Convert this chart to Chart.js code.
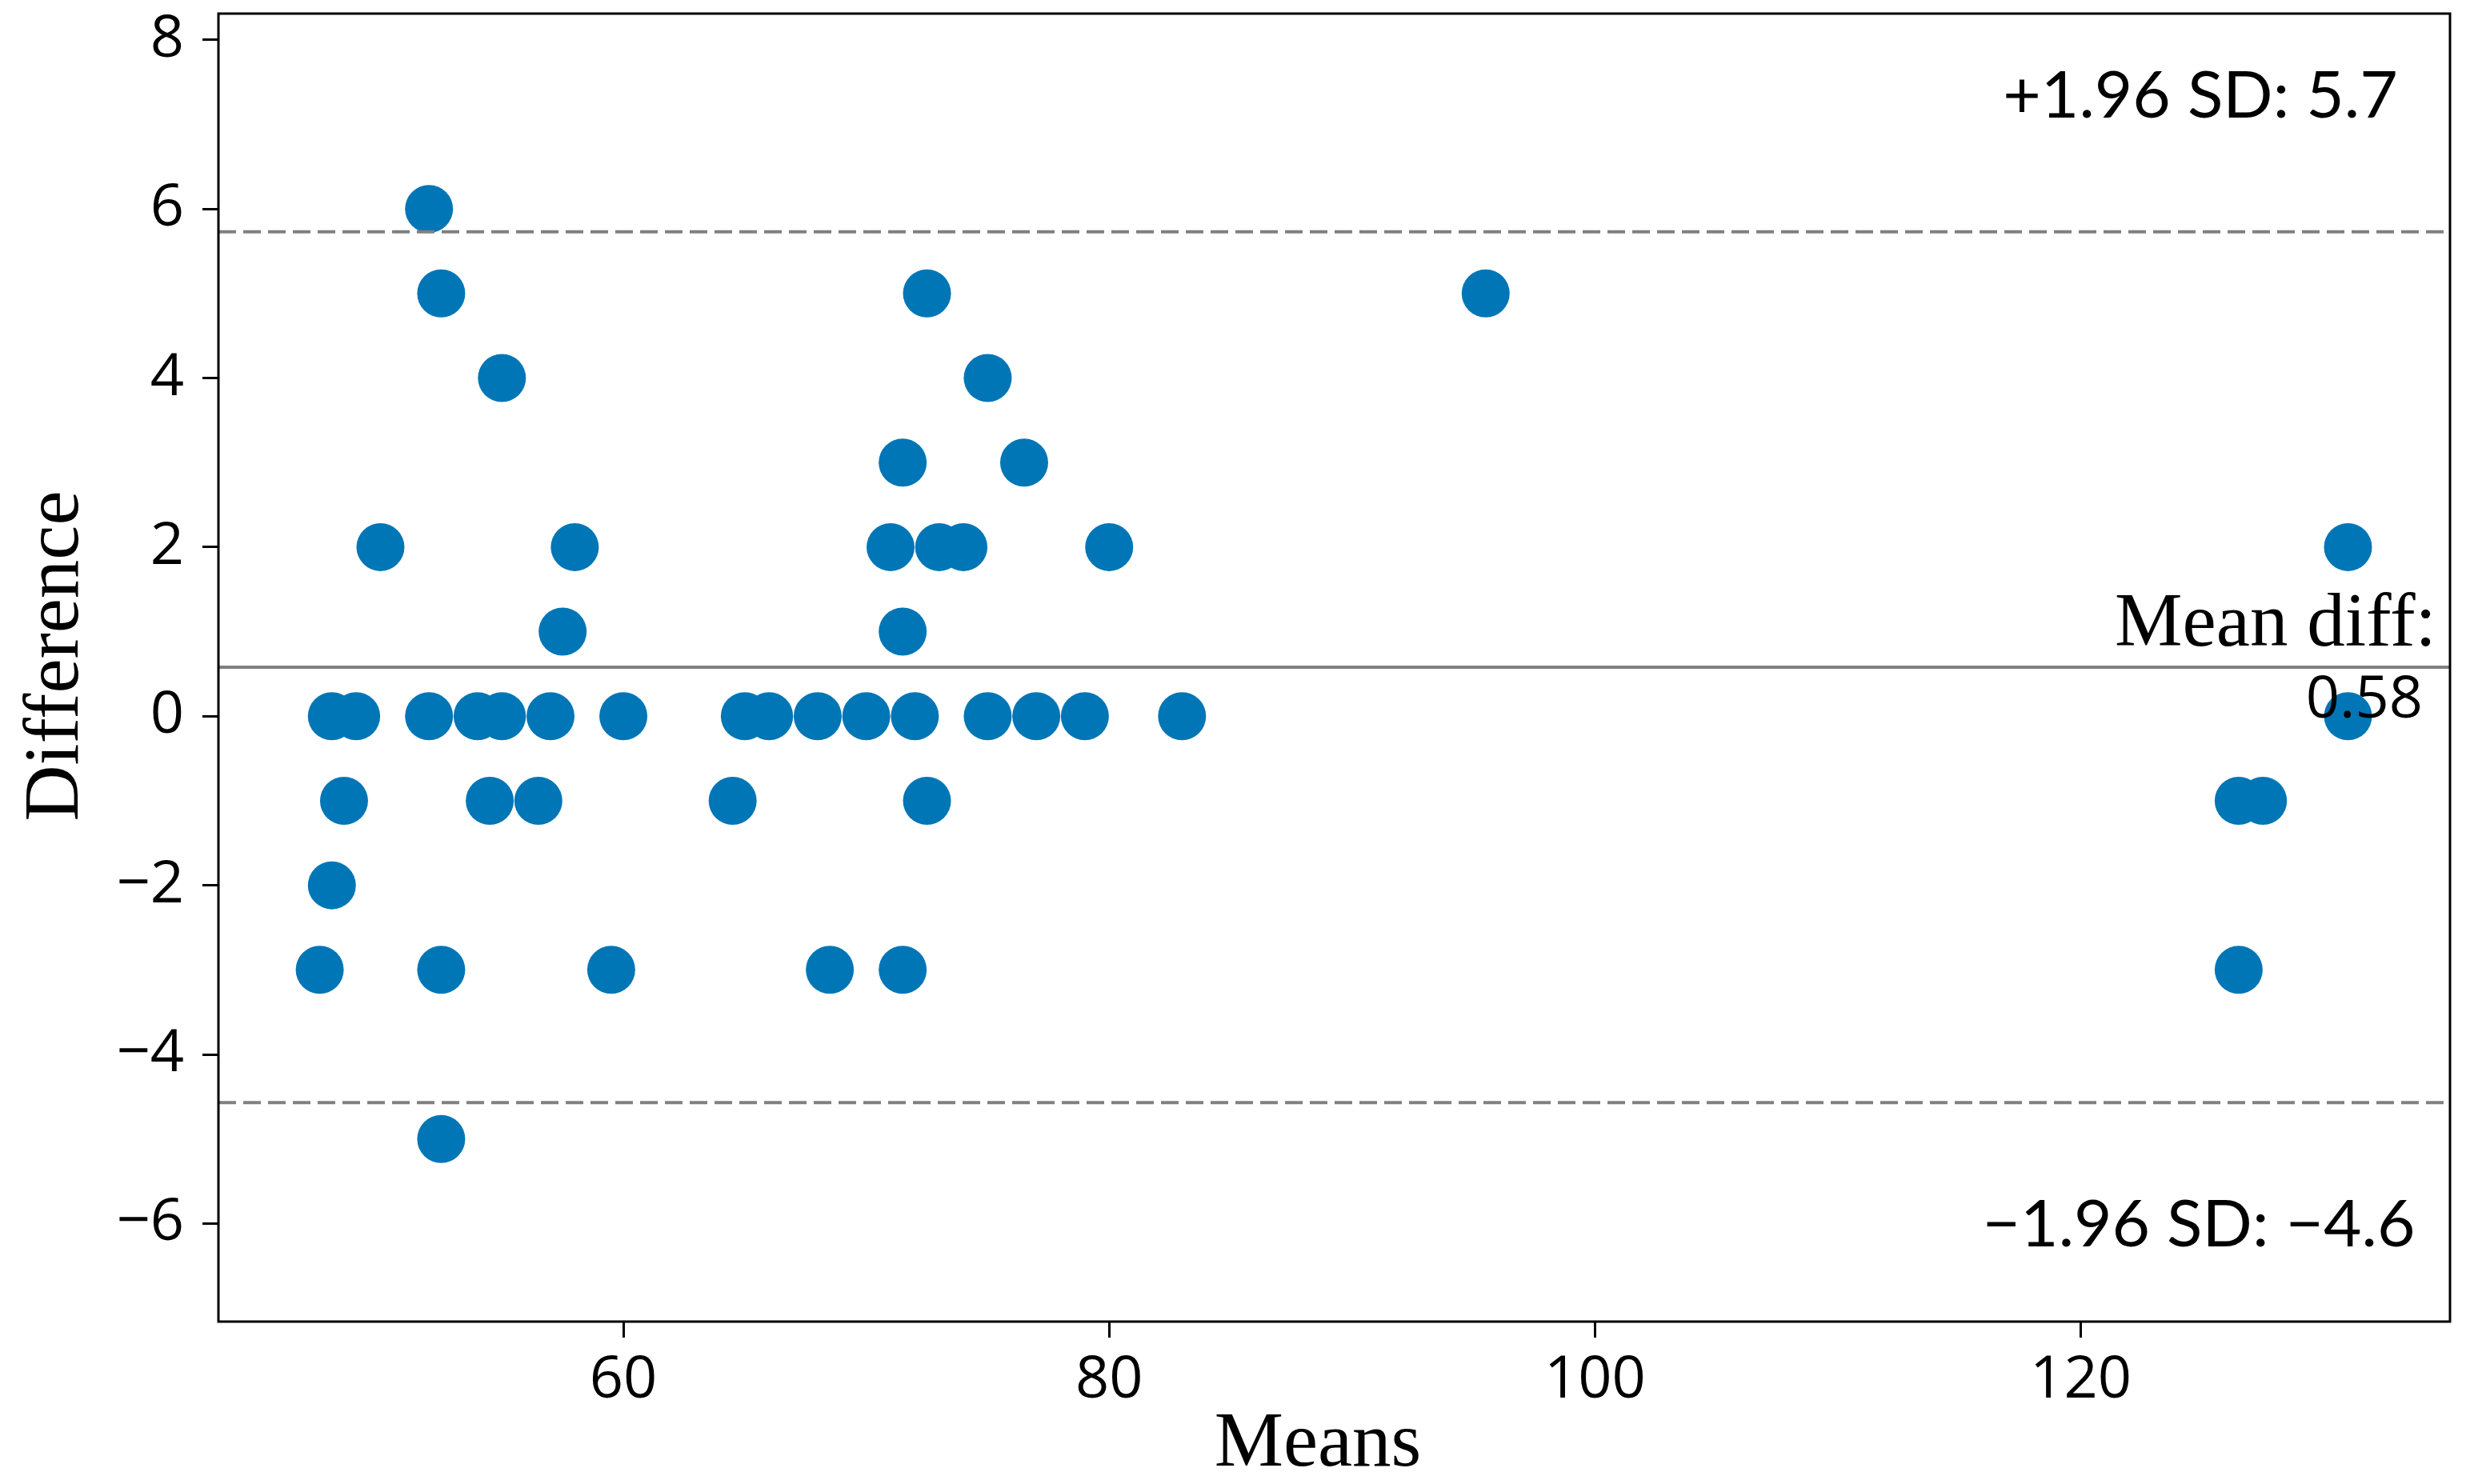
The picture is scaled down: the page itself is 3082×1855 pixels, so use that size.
<!DOCTYPE html>
<html>
<head>
<meta charset="utf-8">
<script src="https://cdn.jsdelivr.net/npm/chart.js@4/dist/chart.umd.min.js"></script>
<style>
  html, body { margin: 0; padding: 0; background: #fff; }
</style>
</head>
<body>
<canvas id="baChart" width="3082" height="1855"></canvas>
<script>
    // Bland-Altman: medias y diferencias de cada par de mediciones
    const medias = [47.5, 48, 48, 48.5, 49, 50, 52, 52, 52.5, 52.5, 52.5, 54, 54.5, 55, 55, 56.5, 57, 57.5, 58, 59.5, 60,
        64.5, 65, 66, 68, 68.5, 70, 71, 71.5, 71.5, 71.5, 72, 72.5, 72.5, 73, 74, 75, 75, 76.5, 77, 79, 80, 83,
        95.5, 126.5, 126.5, 127.5, 131, 131];
    const diferencias = [-3, -2, 0, -1, 0, 2, 6, 0, 5, -3, -5, 0, -1, 4, 0, -1, 0, 1, 2, -3, 0,
        -1, 0, 0, 0, -3, 0, 2, 3, 1, -3, 0, 5, -1, 2, 2, 4, 0, 3, 0, 0, 2, 0,
        5, -1, -3, -1, 2, 0];

    // Líneas de referencia
    const mediaDif = 0.58;
    const limiteSup = 5.73;
    const limiteInf = -4.57;

    // Rango de ejes y ticks
    const rangoX = [43.33, 135.2];
    const rangoY = [-7.16, 8.31];
    const ticksX = [60, 80, 100, 120];
    const ticksY = [-6, -4, -2, 0, 2, 4, 6, 8];

    const puntos = medias.map((m, i) => ({ x: m, y: diferencias[i] }));
    const lineaH = v => [{ x: rangoX[0], y: v }, { x: rangoX[1], y: v }];

    const fuenteTicks = { family: '"Open Sans"', size: 74 };

    // Marco del gráfico y textos
    const textosPlugin = {
        id: 'textos',
        afterDraw(chart) {
            const { ctx, chartArea: a } = chart;
            ctx.save();
            ctx.strokeStyle = '#000';
            ctx.lineWidth = 3;
            ctx.strokeRect(a.left, a.top, a.right - a.left, a.bottom - a.top);

            ctx.fillStyle = '#000';
            ctx.textBaseline = 'alphabetic';

            ctx.font = '82px Lato';
            ctx.textAlign = 'center';
            ctx.fillText('+1.96 SD: 5.7', 2750, 147);
            ctx.fillText('\u22121.96 SD: \u22124.6', 2748, 1558);

            ctx.textAlign = 'right';
            ctx.font = '95px "Liberation Serif"';
            ctx.fillText('Mean diff:', 3045, 807);
            ctx.font = '74px "Open Sans"';
            ctx.fillText('0.58', 3028, 897);

            ctx.textAlign = 'center';
            ctx.font = '97px "Liberation Serif"';
            ctx.fillText('Means', 1647, 1832);

            ctx.translate(97, 820);
            ctx.rotate(-Math.PI / 2);
            ctx.fillText('Difference', 0, 0);
            ctx.restore();
        }
    };

    const ctx = document.getElementById('baChart').getContext('2d');
    new Chart(ctx, {
        type: 'scatter',
        data: {
            datasets: [{
                type: 'line',
                data: lineaH(mediaDif),
                borderColor: '#808080',
                borderWidth: 4,
                pointRadius: 0,
                order: 0
            }, {
                type: 'line',
                data: lineaH(limiteSup),
                borderColor: '#808080',
                borderWidth: 4,
                borderDash: [22, 9],
                pointRadius: 0,
                order: 0
            }, {
                type: 'line',
                data: lineaH(limiteInf),
                borderColor: '#808080',
                borderWidth: 4,
                borderDash: [22, 9],
                pointRadius: 0,
                order: 0
            }, {
                data: puntos,
                backgroundColor: '#0176b6',
                borderWidth: 0,
                pointRadius: 30,
                pointHoverRadius: 30,
                order: 1
            }]
        },
        options: {
            responsive: false,
            animation: false,
            devicePixelRatio: 1,
            layout: { autoPadding: false, padding: { top: 17, right: 20, left: 0, bottom: 0 } },
            plugins: {
                legend: { display: false },
                tooltip: { enabled: false }
            },
            scales: {
                x: {
                    type: 'linear',
                    min: rangoX[0],
                    max: rangoX[1],
                    afterFit: s => { s.height = 203; s.paddingLeft = 0; s.paddingRight = 0; },
                    afterBuildTicks: s => { s.ticks = ticksX.map(v => ({ value: v })); },
                    border: { display: false },
                    grid: { drawOnChartArea: false, drawTicks: true, tickLength: 20, color: '#000', lineWidth: 3 },
                    ticks: { color: '#000', font: fuenteTicks, padding: 10, maxRotation: 0 }
                },
                y: {
                    type: 'linear',
                    min: rangoY[0],
                    max: rangoY[1],
                    afterFit: s => { s.width = 273; s.paddingTop = 0; s.paddingBottom = 0; },
                    afterBuildTicks: s => { s.ticks = ticksY.map(v => ({ value: v })); },
                    border: { display: false },
                    grid: { drawOnChartArea: false, drawTicks: true, tickLength: 20, color: '#000', lineWidth: 3 },
                    ticks: {
                        color: '#000',
                        font: fuenteTicks,
                        padding: 23,
                        callback: v => v < 0 ? '\u2212' + Math.abs(v) : String(v)
                    }
                }
            }
        },
        plugins: [textosPlugin]
    });
</script>
</body>
</html>
